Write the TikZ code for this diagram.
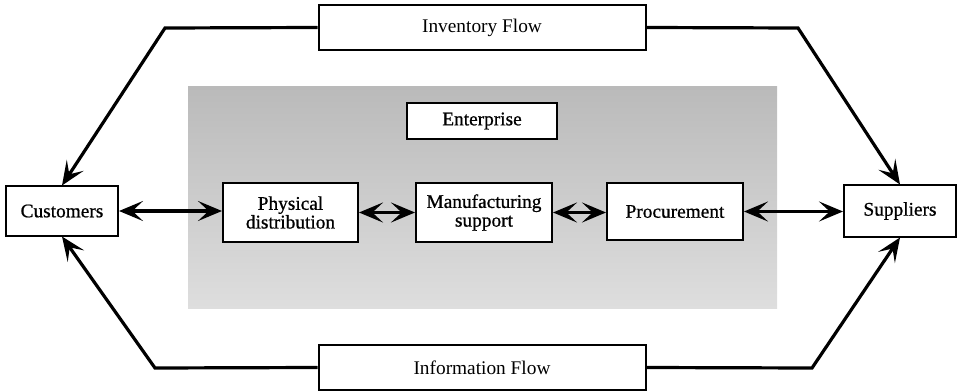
\documentclass[tikz,border=0pt]{standalone}
\usepackage{fontspec}
\setmainfont{Liberation Serif}
\newfontfamily\heavyserif[FakeBold=0.8]{Liberation Serif}
\usetikzlibrary{arrows.meta}
\tikzset{
  head/.tip={Stealth[length=18pt,width=15pt,inset=8pt]},
}
\begin{document}
\begin{tikzpicture}[x=0.75pt,y=-0.75pt,
  box/.style={draw=black,line width=1.5pt,fill=white,inner sep=0pt,
    font=\fontsize{14.5}{16}\selectfont,align=center},
  inner/.style={box,font=\heavyserif\fontsize{14.5}{16}\selectfont},
  flow/.style={line width=2.4pt,line join=miter},
  tip/.style={-head},
  both/.style={head-head}]
\useasboundingbox (0,0) rectangle (960,392);

% shaded enterprise area
\shade[top color=black!27,bottom color=black!13] (188,87) rectangle (777,308);

% boxes
\node[box,minimum width=327*0.75pt,minimum height=45*0.75pt] (inv) at (482,27.5) {Inventory Flow};
\node[box,minimum width=327*0.75pt,minimum height=45*0.75pt] (info) at (482,367.5) {Information Flow};
\node[inner,minimum width=112*0.75pt,minimum height=49*0.75pt] (cust) at (62,211) {Customers};
\node[inner,minimum width=112*0.75pt,minimum height=51*0.75pt] (sup) at (900,211) {Suppliers};
\node[inner,minimum width=150*0.75pt,minimum height=36*0.75pt] (ent) at (482,121) {Enterprise};
\node[inner,minimum width=135*0.75pt,minimum height=59*0.75pt] (phys) at (290.5,212.5) {Physical\\[-2pt]distribution};
\node[inner,minimum width=136*0.75pt,minimum height=59*0.75pt] (manu) at (484,212.5) {Manufacturing\\[-2pt]support};
\node[inner,minimum width=136*0.75pt,minimum height=57*0.75pt] (proc) at (675,211.5) {Procurement};

% bends of the outer flows
\coordinate (tl) at (165,28);
\coordinate (tr) at (798,28);
\coordinate (bl) at (155,368);
\coordinate (br) at (812,368);

% outer flows
\draw[flow,tip] (inv.west) -- (tl) -- (cust.north);
\draw[flow,tip] (inv.east) -- (tr) -- (sup.north);
\draw[flow,tip] (info.west) -- (bl) -- (cust.south);
\draw[flow,tip] (info.east) -- (br) -- (sup.south);

% chain through the enterprise
\draw[flow,both] (cust.east) -- (cust.east -| phys.west);
\draw[flow,both] (phys.east) -- (phys.east -| manu.west);
\draw[flow,both] (manu.east) -- (manu.east -| proc.west);
\draw[flow,both] (proc.east) -- (proc.east -| sup.west);
\end{tikzpicture}
\end{document}
